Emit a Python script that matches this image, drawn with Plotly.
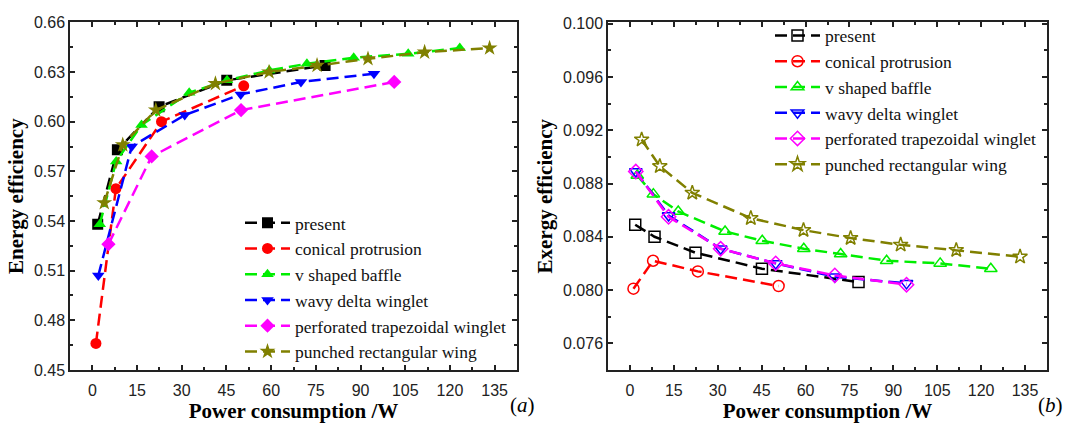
import plotly.graph_objects as go

W, H = 1067, 425

names = ["present", "conical protrusion", "v shaped baffle", "wavy delta winglet",
         "perforated trapezoidal winglet", "punched rectangular wing"]
colors = ["#000000", "#FF0000", "#00EE00", "#0000FF", "#FF00FF", "#808000"]
symbols_a = ["square", "circle", "triangle-up", "triangle-down", "diamond", "star"]
symbols_b = ["square-open", "circle-open", "triangle-up-open", "triangle-down-open", "diamond-open", "star-open"]

# ---- data (power consumption in W) ----
present_x = [1.8, 8.4, 22.4, 45.1, 78.1]
present_energy = [0.538, 0.583, 0.609, 0.625, 0.634]
present_exergy = [0.0849, 0.0840, 0.0828, 0.0816, 0.0806]

conical_x = [1.2, 7.9, 23.2, 50.8]
conical_energy = [0.466, 0.5595, 0.600, 0.6217]
conical_exergy = [0.0801, 0.0822, 0.0814, 0.0803]

vbaffle_x = [2.5, 8.0, 16.5, 32.5, 45.2, 59.4, 72.0, 87.7, 106.0, 123.3]
vbaffle_energy = [0.538, 0.576, 0.598, 0.6175, 0.625, 0.631, 0.635, 0.6387, 0.641, 0.6445]
vbaffle_exergy = [0.0886, 0.0872, 0.0859, 0.0844, 0.0837, 0.0831, 0.0827, 0.0822, 0.0820, 0.0816]

wavy_x = [2.0, 13.2, 31.0, 49.8, 70.0, 94.5]
wavy_energy = [0.507, 0.585, 0.604, 0.6165, 0.624, 0.629]
wavy_exergy = [0.0889, 0.0856, 0.0831, 0.0820, 0.0810, 0.0805]

perf_x_energy = [5.4, 19.9, 49.9, 101.3]
perf_energy = [0.526, 0.579, 0.607, 0.624]
perf_x_exergy = [2.0, 13.2, 31.0, 49.8, 70.0, 94.5]
perf_exergy = [0.0889, 0.0855, 0.0831, 0.0820, 0.0811, 0.0804]

punched_x = [4.0, 10.2, 21.3, 41.3, 59.3, 75.4, 92.5, 111.5, 133.3]
punched_energy = [0.551, 0.586, 0.607, 0.623, 0.630, 0.634, 0.638, 0.642, 0.6445]
punched_exergy = [0.0913, 0.0893, 0.0873, 0.0854, 0.0845, 0.0839, 0.0834, 0.0830, 0.0825]

series_a = [(present_x, present_energy), (conical_x, conical_energy), (vbaffle_x, vbaffle_energy),
            (wavy_x, wavy_energy), (perf_x_energy, perf_energy), (punched_x, punched_energy)]
series_b = [(present_x, present_exergy), (conical_x, conical_exergy), (vbaffle_x, vbaffle_exergy),
            (wavy_x, wavy_exergy), (perf_x_exergy, perf_exergy), (punched_x, punched_exergy)]

DASH = "12px,6px"
fig = go.Figure()
for i, (x, y) in enumerate(series_a):
    fig.add_trace(go.Scatter(
        x=x, y=y, name=names[i], mode="lines+markers", xaxis="x", yaxis="y", legend="legend",
        line=dict(color=colors[i], width=2.5, dash=DASH),
        marker=dict(symbol=symbols_a[i], size=12 if symbols_a[i] == "star" else 11, color=colors[i],
                    line=dict(width=0))))
for i, (x, y) in enumerate(series_b):
    fig.add_trace(go.Scatter(
        x=x, y=y, name=names[i], mode="lines+markers", xaxis="x2", yaxis="y2", legend="legend2",
        line=dict(color=colors[i], width=2.5, dash=DASH),
        marker=dict(symbol=symbols_b[i], size=11, color=colors[i],
                    line=dict(width=1.5, color=colors[i]))))

AX = "#222222"
serif = "Liberation Serif, Times New Roman, serif"
tickfont = dict(family="Liberation Sans, Arial", size=16, color="#222")
titlefont = dict(family=serif, size=21, color="#000")
common = dict(showline=True, linecolor=AX, linewidth=1.5, mirror="ticks", ticks="inside",
              ticklen=5, tickwidth=1.5, tickcolor=AX, showgrid=False, zeroline=False,
              tickfont=tickfont)

yd = [1 - 377 / H, 1 - 15 / H]
fig.update_layout(
    width=W, height=H, margin=dict(l=0, r=0, t=0, b=0),
    paper_bgcolor="white", plot_bgcolor="white",
    xaxis=dict(domain=[70 / W, 517 / W], range=[-7.5, 142.5], tick0=0, dtick=15, ticklabelstandoff=5,
               minor=dict(ticks="inside", dtick=7.5, ticklen=3, tickwidth=1.5, tickcolor=AX),
               title=dict(text="<b>Power consumption /W</b>", font=titlefont, standoff=3), anchor="y", **common),
    yaxis=dict(domain=yd, range=[0.45, 0.66], tick0=0.45, dtick=0.03, tickformat=".2f",
               minor=dict(ticks="inside", dtick=0.015, ticklen=3, tickwidth=1.5, tickcolor=AX),
               title=dict(text="<b>Energy efficiency</b>", font=titlefont, standoff=5), anchor="x", **common),
    xaxis2=dict(domain=[608 / W, 1047 / W], range=[-7.5, 142.5], tick0=0, dtick=15, ticklabelstandoff=5,
                minor=dict(ticks="inside", dtick=7.5, ticklen=3, tickwidth=1.5, tickcolor=AX),
                title=dict(text="<b>Power consumption /W</b>", font=titlefont, standoff=3), anchor="y2", **common),
    yaxis2=dict(domain=yd, range=[0.074, 0.1001], tick0=0.076, dtick=0.004, tickformat=".3f",
                minor=dict(ticks="inside", dtick=0.002, ticklen=3, tickwidth=1.5, tickcolor=AX),
                title=dict(text="<b>Exergy efficiency</b>", font=titlefont, standoff=5), anchor="x2", **common),
    legend=dict(x=240 / W, y=1 - 205 / H, xanchor="left", yanchor="top", bgcolor="rgba(0,0,0,0)",
                itemwidth=45, font=dict(family=serif, size=17.5, color="#111")),
    legend2=dict(x=770 / W, y=1 - 10 / H, xanchor="left", yanchor="top", bgcolor="rgba(0,0,0,0)",
                 itemwidth=45, font=dict(family=serif, size=17.5, color="#111")),
    annotations=[
        dict(text="(<i>a</i>)", x=522 / W, y=1 - 414 / H, xref="paper", yref="paper", showarrow=False,
             xanchor="center", yanchor="middle", font=dict(family=serif, size=21, color="#000")),
        dict(text="(<i>b</i>)", x=1050 / W, y=1 - 414 / H, xref="paper", yref="paper", showarrow=False,
             xanchor="center", yanchor="middle", font=dict(family=serif, size=21, color="#000")),
    ],
)

fig.write_html("out.html")
